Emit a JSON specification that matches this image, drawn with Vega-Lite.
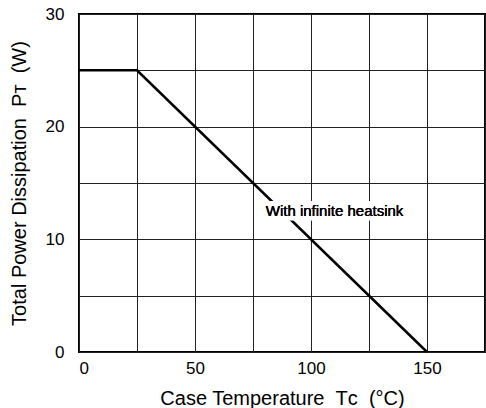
{
  "$schema": "https://vega.github.io/schema/vega-lite/v6.json",
  "width": 406,
  "height": 338,
  "autosize": "none",
  "padding": {"left": 79, "top": 14, "right": 1, "bottom": 56},
  "background": "white",
  "config": {
    "font": "Liberation Sans",
    "view": {"stroke": "black", "strokeWidth": 2},
    "axis": {
      "grid": true,
      "gridColor": "#222",
      "gridWidth": 1,
      "domain": false,
      "ticks": false,
      "labelColor": "black",
      "titleColor": "black",
      "labelFontSize": 17,
      "titleFontSize": 20,
      "titleFontWeight": "normal"
    }
  },
  "data": {
    "values": [
      {"t": 0, "p": 25},
      {"t": 25, "p": 25},
      {"t": 150, "p": 0}
    ]
  },
  "layer": [
    {
      "mark": {"type": "line", "color": "black", "strokeWidth": 2.5},
      "encoding": {
        "x": {
          "field": "t",
          "type": "quantitative",
          "scale": {"domain": [0, 175], "nice": false},
          "axis": {
            "values": [0, 25, 50, 75, 100, 125, 150, 175],
            "labelExpr": "datum.value % 50 === 0 && datum.value < 175 ? datum.label : ''",
            "labelPadding": 8,
            "title": "Case Temperature\u00a0\u00a0Tᴄ\u00a0\u00a0(°C)",
            "titlePadding": 12
          }
        },
        "y": {
          "field": "p",
          "type": "quantitative",
          "scale": {"domain": [0, 30], "nice": false},
          "axis": {
            "values": [0, 5, 10, 15, 20, 25, 30],
            "labelExpr": "datum.value % 10 === 0 ? datum.label : ''",
            "labelPadding": 15,
            "title": "Total Power Dissipation\u00a0\u00a0Pᴛ\u00a0\u00a0(W)",
            "titlePadding": 16
          }
        }
      }
    },
    {
      "mark": {"type": "rect", "color": "white"},
      "encoding": {
        "x": {"datum": 80},
        "x2": {"datum": 141},
        "y": {"datum": 11.7},
        "y2": {"datum": 13.4}
      }
    },
    {
      "mark": {"type": "text", "align": "left", "baseline": "middle", "fontSize": 15, "color": "black"},
      "encoding": {
        "x": {"datum": 80.5},
        "y": {"datum": 12.5},
        "text": {"value": "With infinite heatsink"}
      }
    }
  ]
}
